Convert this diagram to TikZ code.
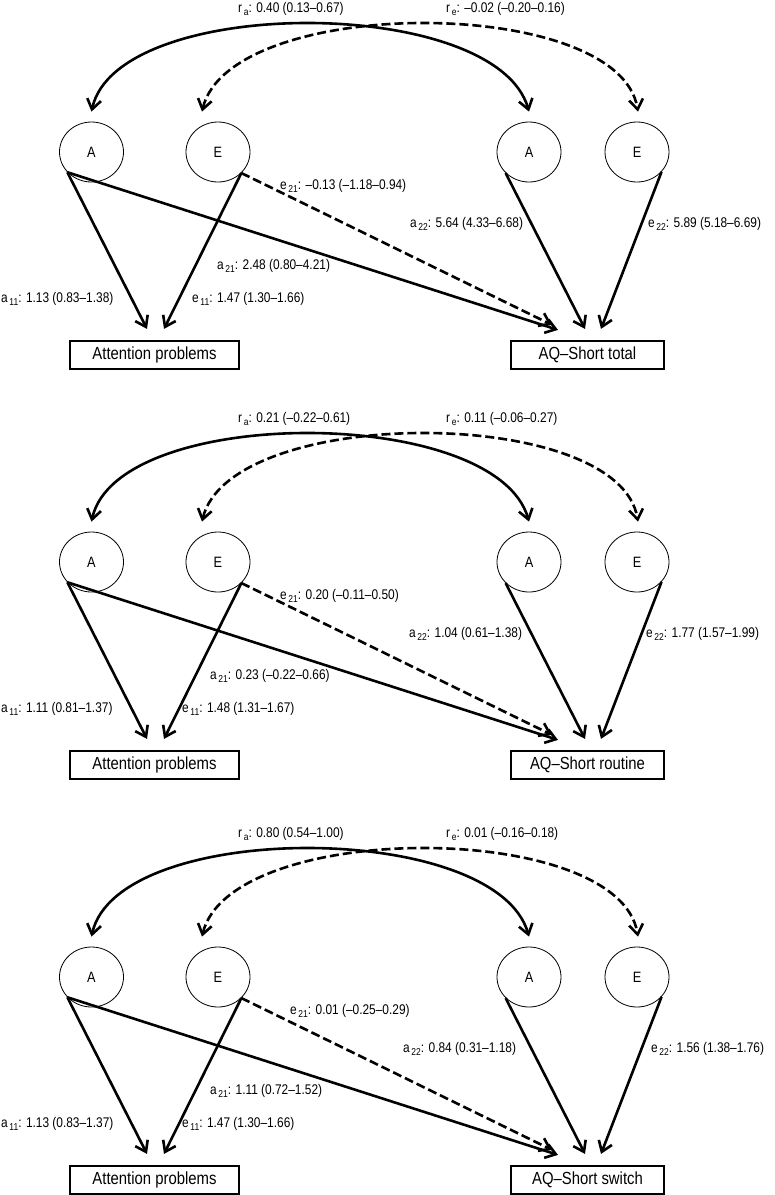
\documentclass[tikz,border=0pt]{standalone}
\usepackage{fontspec}
\setmainfont{Liberation Sans}[FakeStretch=0.85]
\usetikzlibrary{arrows.meta,calc,shapes.geometric}

\newcommand{\lsub}[1]{\raisebox{-3pt}{\fontsize{10}{10}\selectfont\,#1}}
% one bivariate ACE model: prefix, y offset, AQ-Short scale
\newcommand{\twinmodel}[3]%
{%
	\node[factor] (#1A1) at (91.5,{152+#2}) {A};
	\node[factor] (#1E1) at (218,{152+#2}) {E};
	\node[factor] (#1A2) at (529,{152+#2}) {A};
	\node[factor] (#1E2) at (637,{152+#2}) {E};
	\node[trait, minimum width=169pt] (#1P1) at (154.5,{355+#2}) {Attention problems};
	\node[trait, minimum width=153pt] (#1P2) at (587.5,{355+#2}) {#3};
	\draw[corr] ([yshift=10pt]#1A1.north) .. controls +(25.5,-117) and +(-33,-117) .. ([yshift=10pt]#1A2.north);
	\draw[corr, dashed] ($(#1E1.north)+(-16,-10)$) .. controls +(28,-117) and +(-19,-117) .. ($(#1E2.north)+(1,-10)$);
	\draw[load] (#1A1.220) -- ($(#1P1.north)+(-7.5,-11)$);
	\draw[load] (#1E1.318) -- ($(#1P1.north)+(9.5,-11)$);
	\draw[load] (#1A1.220) -- ($(#1P2.north)+(-29.5,-10)$);
	\draw[load, dashed] (#1E1.318) -- ($(#1P2.north)+(-35.5,-15)$);
	\draw[load] (#1A2.222) -- ($(#1P2.north)+(-2.5,-11)$);
	\draw[load] (#1E2.321) -- ($(#1P2.north)+(13.5,-11)$);
}

\tikzset{
	barb/.tip={Straight Barb[length=10pt,width=14pt]},
	factor/.style={ellipse, draw, line width=0.8pt, minimum width=64pt, minimum height=60pt, inner sep=0pt, font=\fontsize{15}{15}\selectfont},
	trait/.style={rectangle, draw, line width=2.2pt, minimum height=28pt, inner sep=0pt, font=\fontsize{17.5}{17.5}\selectfont},
	load/.style={line width=2.6pt, -barb},
	corr/.style={line width=2.6pt, barb-barb},
	est/.style={anchor=west, inner sep=0pt, font=\fontsize{14}{14}\selectfont},
	dashed/.style={dash pattern=on 9pt off 4pt},
}

\begin{document}
\begin{tikzpicture}[x=1pt,y=-1pt]
	\useasboundingbox (0,0) rectangle (775,1195);
	% total
	\twinmodel{t}{0}{AQ–Short total}
	\node[est] at (238,9){r\lsub{a}: 0.40 (0.13–0.67)};%ra
	\node[est] at (446,9){r\lsub{e}: –0.02 (–0.20–0.16)};%re
	\node[est] at (280,186){e\lsub{21}: –0.13 (–1.18–0.94)};%e21
	\node[est] at (410,224){a\lsub{22}: 5.64 (4.33–6.68)};%a22
	\node[est] at (648,224){e\lsub{22}: 5.89 (5.18–6.69)};%e22
	\node[est] at (217,266){a\lsub{21}: 2.48 (0.80–4.21)};%a21
	\node[est] at (1,299){a\lsub{11}: 1.13 (0.83–1.38)};%a11
	\node[est] at (192,299){e\lsub{11}: 1.47 (1.30–1.66)};%e11
	% routine
	\twinmodel{r}{410}{AQ–Short routine}
	\node[est] at (238,419){r\lsub{a}: 0.21 (–0.22–0.61)};%ra
	\node[est] at (446,419){r\lsub{e}: 0.11 (–0.06–0.27)};%re
	\node[est] at (280,596){e\lsub{21}: 0.20 (–0.11–0.50)};%e21
	\node[est] at (409,634){a\lsub{22}: 1.04 (0.61–1.38)};%a22
	\node[est] at (646,634){e\lsub{22}: 1.77 (1.57–1.99)};%e22
	\node[est] at (210,676){a\lsub{21}: 0.23 (–0.22–0.66)};%a21
	\node[est] at (1,709){a\lsub{11}: 1.11 (0.81–1.37)};%a11
	\node[est] at (182,709){e\lsub{11}: 1.48 (1.31–1.67)};%e11
	% switch
	\twinmodel{s}{825}{AQ–Short switch}
	\node[est] at (238,834){r\lsub{a}: 0.80 (0.54–1.00)};%ra
	\node[est] at (446,834){r\lsub{e}: 0.01 (–0.16–0.18)};%re
	\node[est] at (290,1011){e\lsub{21}: 0.01 (–0.25–0.29)};%e21
	\node[est] at (403,1049){a\lsub{22}: 0.84 (0.31–1.18)};%a22
	\node[est] at (651,1049){e\lsub{22}: 1.56 (1.38–1.76)};%e22
	\node[est] at (210,1091){a\lsub{21}: 1.11 (0.72–1.52)};%a21
	\node[est] at (1,1124){a\lsub{11}: 1.13 (0.83–1.37)};%a11
	\node[est] at (182,1124){e\lsub{11}: 1.47 (1.30–1.66)};%e11
\end{tikzpicture}
\end{document}
